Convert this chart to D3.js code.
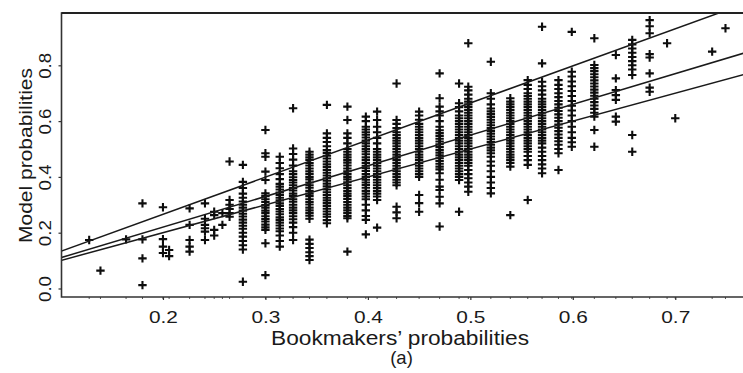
<!DOCTYPE html>
<html>
<head>
<meta charset="utf-8">
<script src="https://cdn.jsdelivr.net/npm/d3@7"></script>
<style>
  html, body { margin: 0; padding: 0; background: #fff; }
  svg { display: block; }
  text { font-family: "Liberation Sans", Arial, Helvetica, sans-serif; fill: #1a1a1a; }
</style>
</head>
<body>
<svg id="chart" width="743" height="373"></svg>
<script>
// ---- data ----
const colX = [0.128, 0.139, 0.164, 0.18, 0.2, 0.206, 0.226, 0.241, 0.25, 0.258, 0.265, 0.278,
  0.3, 0.314, 0.327, 0.343, 0.36, 0.38, 0.398, 0.409, 0.428, 0.45, 0.47, 0.489, 0.498,
  0.52, 0.539, 0.556, 0.57, 0.586, 0.599, 0.621, 0.642, 0.658, 0.675, 0.692, 0.7, 0.736, 0.749];

const colY = [
  [0.174],
  [0.064],
  [0.176],
  [0.305, 0.176, 0.108, 0.012],
  [0.291, 0.177, 0.150, 0.127],
  [0.138, 0.116],
  [0.287, 0.228, 0.174, 0.150, 0.132],
  [0.305, 0.250, 0.228, 0.216, 0.204, 0.174],
  [0.275, 0.263, 0.210, 0.190],
  [0.270, 0.228],
  [0.455, 0.317, 0.300, 0.285, 0.270, 0.257],
  [0.443, 0.382, 0.360, 0.340, 0.325, 0.312, 0.300, 0.290, 0.279, 0.268, 0.258, 0.247, 0.236, 0.225, 0.214, 0.200, 0.186, 0.170, 0.155, 0.140, 0.024],
  [0.568, 0.485, 0.472, 0.419, 0.389, 0.341, 0.331, 0.320, 0.310, 0.299, 0.290, 0.279, 0.270, 0.259, 0.249, 0.240, 0.229, 0.219, 0.210, 0.162, 0.048],
  [0.472, 0.450, 0.431, 0.410, 0.392, 0.375, 0.365, 0.355, 0.344, 0.335, 0.325, 0.316, 0.305, 0.296, 0.285, 0.276, 0.266, 0.255, 0.246, 0.236, 0.226, 0.215, 0.205, 0.190, 0.170, 0.150],
  [0.646, 0.502, 0.482, 0.462, 0.441, 0.420, 0.410, 0.399, 0.389, 0.380, 0.370, 0.360, 0.351, 0.340, 0.331, 0.320, 0.311, 0.300, 0.290, 0.280, 0.270, 0.259, 0.248, 0.236, 0.220, 0.200, 0.174],
  [0.490, 0.480, 0.470, 0.461, 0.450, 0.441, 0.430, 0.420, 0.411, 0.400, 0.391, 0.380, 0.370, 0.361, 0.350, 0.340, 0.331, 0.320, 0.310, 0.301, 0.290, 0.280, 0.270, 0.261, 0.250, 0.175, 0.160, 0.145, 0.130, 0.116, 0.102],
  [0.658, 0.556, 0.540, 0.525, 0.510, 0.496, 0.486, 0.476, 0.466, 0.455, 0.445, 0.435, 0.425, 0.415, 0.405, 0.395, 0.386, 0.376, 0.366, 0.355, 0.345, 0.335, 0.325, 0.316, 0.306, 0.296, 0.286, 0.276, 0.266, 0.257, 0.245, 0.234],
  [0.652, 0.604, 0.556, 0.540, 0.520, 0.500, 0.490, 0.480, 0.470, 0.460, 0.451, 0.441, 0.430, 0.420, 0.410, 0.400, 0.391, 0.381, 0.370, 0.360, 0.350, 0.340, 0.331, 0.321, 0.310, 0.300, 0.290, 0.280, 0.270, 0.260, 0.252, 0.132],
  [0.616, 0.600, 0.580, 0.570, 0.560, 0.551, 0.541, 0.530, 0.520, 0.510, 0.500, 0.491, 0.481, 0.470, 0.460, 0.450, 0.440, 0.431, 0.421, 0.410, 0.400, 0.390, 0.380, 0.371, 0.361, 0.350, 0.340, 0.330, 0.320, 0.300, 0.280, 0.260, 0.246, 0.194],
  [0.634, 0.604, 0.580, 0.560, 0.540, 0.520, 0.500, 0.490, 0.480, 0.470, 0.460, 0.450, 0.440, 0.430, 0.420, 0.410, 0.400, 0.390, 0.380, 0.370, 0.360, 0.350, 0.340, 0.330, 0.317, 0.218],
  [0.735, 0.604, 0.590, 0.575, 0.560, 0.550, 0.540, 0.530, 0.520, 0.510, 0.500, 0.490, 0.480, 0.470, 0.460, 0.450, 0.440, 0.430, 0.420, 0.410, 0.400, 0.390, 0.380, 0.370, 0.293, 0.273, 0.252],
  [0.634, 0.620, 0.605, 0.590, 0.580, 0.570, 0.560, 0.550, 0.540, 0.530, 0.520, 0.510, 0.500, 0.490, 0.480, 0.470, 0.460, 0.450, 0.440, 0.430, 0.420, 0.410, 0.400, 0.335, 0.306, 0.275],
  [0.771, 0.682, 0.652, 0.635, 0.620, 0.600, 0.580, 0.567, 0.557, 0.547, 0.537, 0.527, 0.517, 0.507, 0.497, 0.487, 0.477, 0.467, 0.457, 0.447, 0.437, 0.427, 0.413, 0.390, 0.365, 0.353, 0.329, 0.305, 0.222],
  [0.735, 0.664, 0.650, 0.635, 0.620, 0.610, 0.600, 0.590, 0.580, 0.570, 0.560, 0.550, 0.540, 0.530, 0.520, 0.510, 0.500, 0.490, 0.480, 0.470, 0.460, 0.450, 0.440, 0.430, 0.420, 0.410, 0.400, 0.389, 0.275],
  [0.879, 0.723, 0.710, 0.695, 0.680, 0.670, 0.660, 0.650, 0.640, 0.630, 0.620, 0.610, 0.600, 0.590, 0.580, 0.570, 0.560, 0.550, 0.540, 0.530, 0.520, 0.510, 0.500, 0.490, 0.480, 0.470, 0.460, 0.450, 0.440, 0.425, 0.410, 0.395, 0.380, 0.365, 0.347],
  [0.813, 0.700, 0.680, 0.660, 0.645, 0.635, 0.625, 0.615, 0.605, 0.595, 0.585, 0.575, 0.565, 0.555, 0.545, 0.535, 0.525, 0.515, 0.505, 0.495, 0.485, 0.472, 0.455, 0.440, 0.420, 0.400, 0.380, 0.360, 0.341],
  [0.682, 0.670, 0.660, 0.650, 0.640, 0.630, 0.620, 0.610, 0.600, 0.590, 0.580, 0.570, 0.560, 0.550, 0.540, 0.530, 0.520, 0.510, 0.500, 0.490, 0.480, 0.470, 0.460, 0.450, 0.437, 0.263],
  [0.747, 0.730, 0.715, 0.700, 0.690, 0.680, 0.670, 0.660, 0.650, 0.640, 0.630, 0.620, 0.610, 0.600, 0.590, 0.580, 0.570, 0.560, 0.550, 0.540, 0.530, 0.520, 0.510, 0.500, 0.490, 0.475, 0.460, 0.443, 0.317],
  [0.938, 0.807, 0.741, 0.725, 0.710, 0.695, 0.680, 0.670, 0.660, 0.650, 0.640, 0.630, 0.620, 0.610, 0.600, 0.590, 0.580, 0.570, 0.560, 0.550, 0.540, 0.530, 0.520, 0.505, 0.490, 0.475, 0.460, 0.445, 0.430, 0.413],
  [0.747, 0.730, 0.715, 0.700, 0.686, 0.672, 0.660, 0.648, 0.636, 0.624, 0.612, 0.600, 0.588, 0.576, 0.564, 0.552, 0.540, 0.528, 0.515, 0.500, 0.485, 0.425],
  [0.920, 0.777, 0.760, 0.742, 0.725, 0.708, 0.690, 0.672, 0.655, 0.638, 0.620, 0.600, 0.580, 0.560, 0.540, 0.524, 0.508],
  [0.897, 0.801, 0.790, 0.779, 0.768, 0.757, 0.746, 0.735, 0.724, 0.713, 0.702, 0.691, 0.680, 0.668, 0.656, 0.644, 0.630, 0.616, 0.568, 0.508],
  [0.837, 0.753, 0.711, 0.693, 0.676, 0.616, 0.598],
  [0.891, 0.875, 0.860, 0.845, 0.830, 0.815, 0.800, 0.785, 0.765, 0.550, 0.490],
  [0.962, 0.940, 0.915, 0.840, 0.828, 0.771, 0.720, 0.705],
  [0.879],
  [0.610],
  [0.849],
  [0.933]
];

// reference lines (endpoints)
const lineX = [0.10, 0.77];
const lineLowY = [0.10, 0.77];
const lineMidY = [0.11, 0.847];
const lineHighY = [0.133, 1.024];

const xTicks = [0.2, 0.3, 0.4, 0.5, 0.6, 0.7];
const yTicks = [0.0, 0.2, 0.4, 0.6, 0.8];
const xTitle = "Bookmakers\u2019 probabilities";
const yTitle = "Model probabilities";
const subTitle = "(a)";

// ---- layout ----
const svg = d3.select("#chart");
const plot = { left: 61.5, top: 13, right: 743, bottom: 297 };

const x = d3.scaleLinear().domain([0.1, 0.77]).range([60.5, 747]);
const y = d3.scaleLinear().domain([-0.0305, 0.9875]).range([297, 13]);

svg.append("defs").append("clipPath").attr("id", "clip")
  .append("rect")
  .attr("x", plot.left).attr("y", plot.top)
  .attr("width", plot.right - plot.left).attr("height", plot.bottom - plot.top);

// points
const points = [];
colX.forEach((cx, i) => colY[i].forEach(v => points.push([cx, v])));

const g = svg.append("g").attr("clip-path", "url(#clip)");
g.selectAll("path.pt")
  .data(points)
  .join("path")
  .attr("class", "pt")
  .attr("transform", d => `translate(${x(d[0])},${y(d[1])})`)
  .attr("d", "M-4.2,0H4.2M0,-4.2V4.2")
  .attr("stroke", "#0d0d0d")
  .attr("stroke-width", 2.1)
  .attr("fill", "none");

// lines
const lineGen = d3.line().x(d => x(d[0])).y(d => y(d[1]));
[lineLowY, lineMidY, lineHighY].forEach(ys => {
  g.append("path")
    .datum(lineX.map((lx, i) => [lx, ys[i]]))
    .attr("d", lineGen)
    .attr("fill", "none")
    .attr("stroke", "#1a1a1a")
    .attr("stroke-width", 1.5);
});

// rug along the bottom
svg.append("g").selectAll("line")
  .data(colX.filter(v => x(v) < plot.right))
  .join("line")
  .attr("x1", d => x(d)).attr("x2", d => x(d))
  .attr("y1", plot.bottom).attr("y2", plot.bottom + 2)
  .attr("stroke", "#555").attr("stroke-width", 1);

// frame (left, top, bottom; right side is cut off)
svg.append("path")
  .attr("d", `M${plot.right},${plot.top}H${plot.left}V${plot.bottom}H${plot.right}`)
  .attr("fill", "none")
  .attr("stroke", "#333")
  .attr("stroke-width", 1.6);
svg.append("line")
  .attr("x1", plot.left).attr("x2", plot.right)
  .attr("y1", plot.top).attr("y2", plot.top)
  .attr("stroke", "#222").attr("stroke-width", 2.2);

// x axis
const xAxis = svg.append("g")
  .attr("transform", `translate(0,${plot.bottom})`)
  .call(d3.axisBottom(x).tickValues(xTicks).tickSize(3).tickPadding(0).tickFormat(d3.format(".1f")));
xAxis.select(".domain").remove();
xAxis.selectAll(".tick line").attr("stroke", "#333").attr("stroke-width", 1.2);
xAxis.selectAll(".tick text")
  .attr("y", 26).attr("dy", null)
  .attr("font-size", 17)
  .attr("fill", "#1a1a1a")
  .attr("textLength", 29).attr("lengthAdjust", "spacingAndGlyphs")
  .style("font-family", "'Liberation Sans', Arial, sans-serif");

// y axis
const yAxis = svg.append("g")
  .attr("transform", `translate(${plot.left},0)`)
  .call(d3.axisLeft(y).tickValues(yTicks).tickSize(3).tickFormat(d3.format(".1f")));
yAxis.select(".domain").remove();
yAxis.selectAll(".tick line").attr("stroke", "#333").attr("stroke-width", 1.2);
yAxis.selectAll(".tick text")
  .attr("x", 0).attr("y", -11).attr("dy", null)
  .attr("transform", "rotate(-90)")
  .attr("text-anchor", "middle")
  .attr("font-size", 17)
  .attr("fill", "#1a1a1a")
  .attr("textLength", 26).attr("lengthAdjust", "spacingAndGlyphs")
  .style("font-family", "'Liberation Sans', Arial, sans-serif");

// titles
svg.append("text")
  .attr("x", 400).attr("y", 345)
  .attr("text-anchor", "middle")
  .attr("font-size", 20)
  .attr("textLength", 258).attr("lengthAdjust", "spacingAndGlyphs")
  .text(xTitle);

svg.append("text")
  .attr("x", 401.5).attr("y", 364)
  .attr("text-anchor", "middle")
  .attr("font-size", 18.5)
  .text(subTitle);

svg.append("text")
  .attr("transform", "translate(32,155.5) rotate(-90)")
  .attr("text-anchor", "middle")
  .attr("font-size", 18)
  .attr("textLength", 175).attr("lengthAdjust", "spacingAndGlyphs")
  .text(yTitle);
</script>
</body>
</html>
